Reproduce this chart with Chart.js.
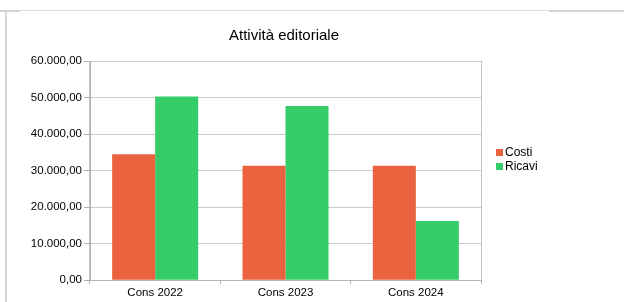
<!DOCTYPE html>
<html>
<head>
<meta charset="utf-8">
<script src="https://cdn.jsdelivr.net/npm/chart.js@4"></script>
<style>
  html, body { margin: 0; padding: 0; background: #fff; }
  #wrap { position: relative; width: 624px; height: 302px; overflow: hidden; font-family: "Liberation Sans", Arial, sans-serif; }
  #chart { position: absolute; left: 0; top: 0; }
  .frame-top { position: absolute; left: 0; top: 10px; width: 624px; height: 1px; background: #dcdcdc; }
  .frame-top.thick { height: 2px; background: #d4d4d4; }
  .frame-left { position: absolute; left: 5px; top: 11px; width: 2px; height: 291px; background: #d6d6d6; }
  .title { position: absolute; left: 0; width: 568px; top: 26px; text-align: center; font-size: 15px; color: #000; }
  .legend { position: absolute; left: 496px; top: 146px; font-size: 12px; color: #000; }
  .legend div { height: 13.5px; line-height: 13.5px; white-space: nowrap; }
  .legend span { display: inline-block; width: 7px; height: 7px; margin-right: 2px; vertical-align: 0px; }
</style>
</head>
<body>
<div id="wrap">
  <div class="frame-top"></div>
  <div class="frame-top thick" style="width:20px"></div>
  <div class="frame-top thick" style="left:549px;width:75px"></div>
  <div class="frame-left"></div>
  <canvas id="chart" width="624" height="302"></canvas>
  <div class="title">Attività editoriale</div>
  <div class="legend" id="legend"></div>
</div>
<script>
const TITLE = "Attività editoriale";
const CATEGORIES = ["Cons 2022", "Cons 2023", "Cons 2024"];
const COSTI = [34500, 31300, 31300];
const RICAVI = [50300, 47700, 16200];
const SERIES_NAMES = ["Costi", "Ricavi"];
const SERIES_COLORS = ["#EB623F", "#36CC6A"];
const Y_MIN = 0;
const Y_MAX = 60000;
const Y_STEP = 10000;

function formatIt(value) {
  const fixed = Number(value).toFixed(2);
  const parts = fixed.split(".");
  const intPart = parts[0].replace(/\B(?=(\d{3})+(?!\d))/g, ".");
  return intPart + "," + parts[1];
}

function buildLegend() {
  const box = document.getElementById("legend");
  SERIES_NAMES.forEach((name, i) => {
    const row = document.createElement("div");
    const swatch = document.createElement("span");
    swatch.style.background = SERIES_COLORS[i];
    row.appendChild(swatch);
    row.appendChild(document.createTextNode(name));
    box.appendChild(row);
  });
}

function renderChart() {
  const canvas = document.getElementById("chart");
  Chart.defaults.font.family = '"Liberation Sans", Arial, sans-serif';
  Chart.defaults.font.size = 11.5;
  Chart.defaults.color = "#000";

  new Chart(canvas.getContext("2d"), {
    type: "bar",
    data: {
      labels: CATEGORIES,
      datasets: [
        { label: SERIES_NAMES[0], data: COSTI, backgroundColor: SERIES_COLORS[0] },
        { label: SERIES_NAMES[1], data: RICAVI, backgroundColor: SERIES_COLORS[1] },
      ],
    },
    options: {
      responsive: false,
      animation: false,
      layout: { padding: { left: 0, right: 143, top: 61, bottom: 0 } },
      datasets: { bar: { categoryPercentage: 0.66, barPercentage: 1.0 } },
      plugins: {
        legend: { display: false },
        title: { display: false, text: TITLE },
        tooltip: { enabled: false },
      },
      scales: {
        x: {
          offset: true,
          grid: {
            offset: true,
            color: (ctx) => (ctx.type !== "tick" || ctx.index === 0 ? "#c4c4c4" : "transparent"),
            tickColor: "#b0b0b0",
            tickLength: 4,
            drawTicks: true,
          },
          border: { color: "#b3b3b3" },
          ticks: { padding: 2, color: "#000", font: { size: 11.5 } },
        },
        y: {
          min: Y_MIN,
          max: Y_MAX,
          afterFit: (scale) => { scale.width = 90; },
          grid: { color: "#cacaca", tickColor: "#b0b0b0", tickLength: 6 },
          border: { color: "#b3b3b3" },
          ticks: {
            stepSize: Y_STEP,
            padding: 2,
            color: "#000",
            font: { size: 11.5 },
            callback: (v) => formatIt(v),
          },
        },
      },
    },
  });
}

buildLegend();
renderChart();
</script>
</body>
</html>
